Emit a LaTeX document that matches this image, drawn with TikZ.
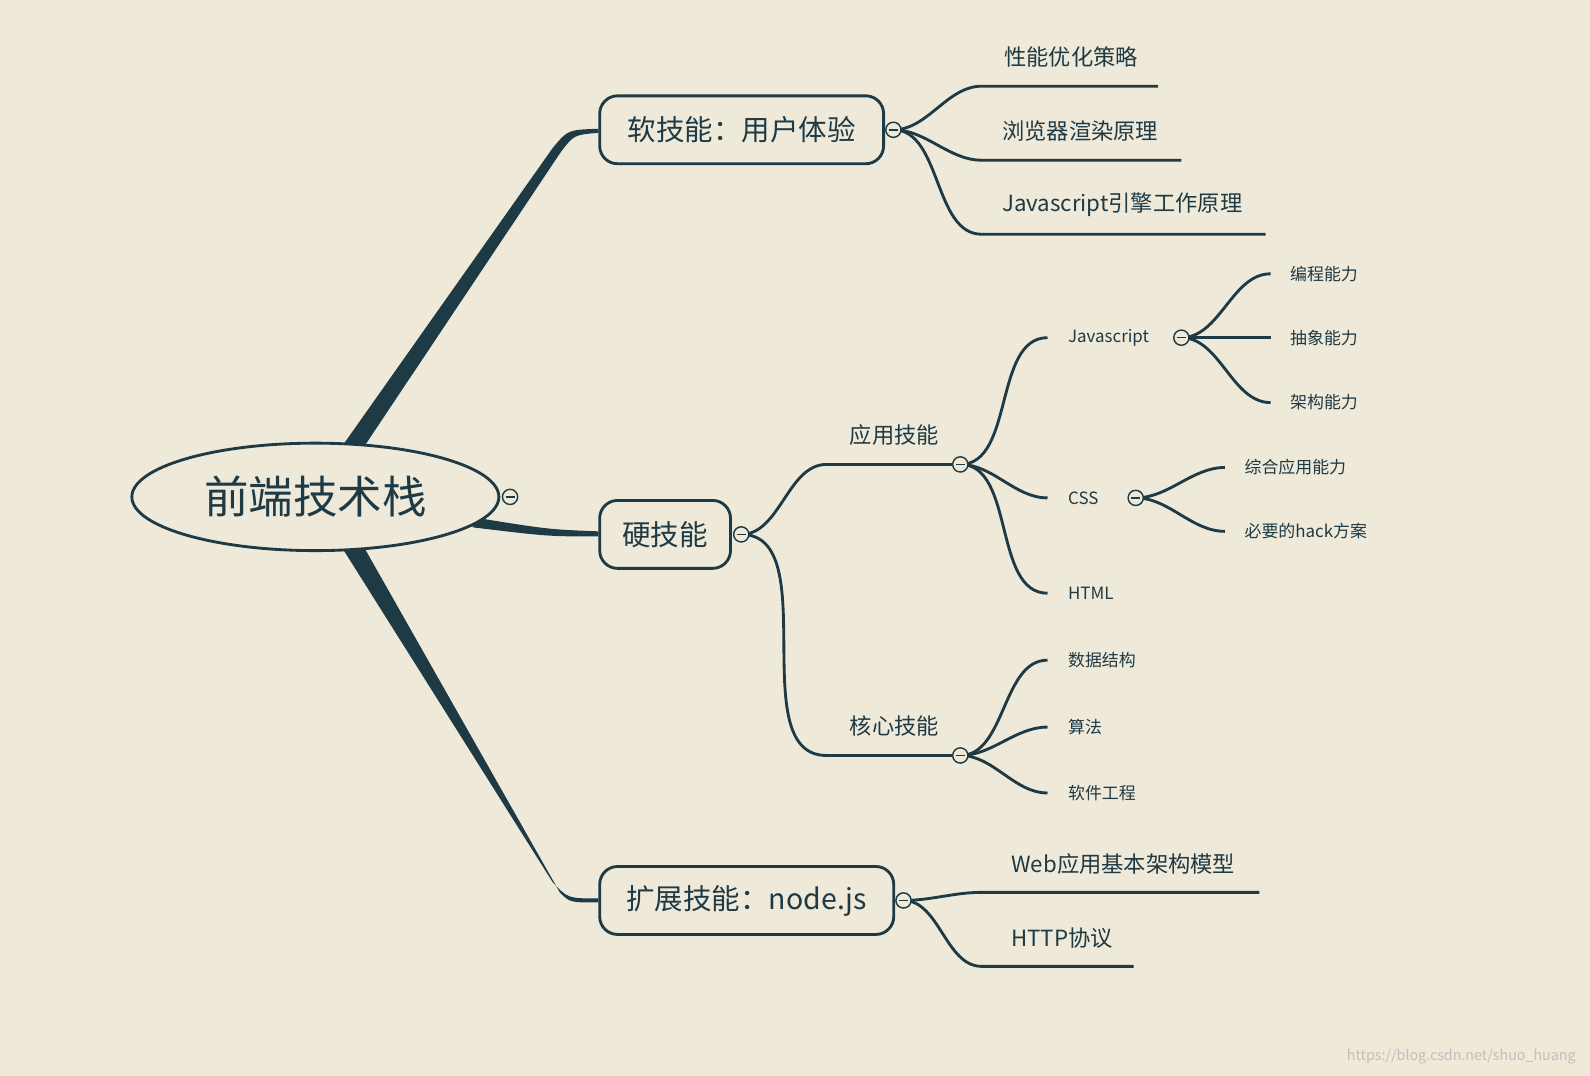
\documentclass[tikz,border=0pt]{standalone}
\usepackage{fontspec}
\setmainfont{Noto Sans CJK SC}
\usetikzlibrary{shapes.geometric}
\definecolor{bg}{HTML}{EFE9DA}
\definecolor{ink}{HTML}{1E3A44}
\begin{document}
\begin{tikzpicture}[x=0.02cm,y=-0.02cm,
  ln/.style={draw=ink,line width=1.6pt},
  br/.style={ln,out=0,in=180,looseness=0.9},
  box/.style={draw=ink,line width=1.6pt,rounded corners=10pt,minimum height=1.34cm,text=ink,font=\fontsize{16}{18}\selectfont,inner xsep=8pt},
  col/.style={circle,draw=ink,fill=bg,line width=0.8pt,minimum size=0.3cm,inner sep=0pt,
    path picture={\draw[ink,line width=0.8pt] ([xshift=-2.5pt]path picture bounding box.center)--([xshift=2.5pt]path picture bounding box.center);}},
  lf/.style={text=ink,font=\fontsize{12.5}{14}\selectfont,anchor=west,inner sep=0pt},
  sm/.style={text=ink,font=\fontsize{9.5}{11}\selectfont,anchor=west,inner sep=0pt}]
\fill[bg] (0,0) rectangle (1568,1061);
\useasboundingbox (0,0) rectangle (1568,1061);
% thick branches
\fill[ink] (336,442) -- (545,146) .. controls (560,128) .. (590,127) -- (590,131) .. controls (566,133) .. (553,150) -- (358,442) -- cycle;
\fill[ink] (466,510) .. controls (540,522) .. (590,524) -- (590,529) .. controls (540,529) .. (466,520) -- cycle;
\fill[ink] (336,538) -- (545,870) .. controls (560,886) .. (590,886) -- (590,890) .. controls (562,890) .. (552,880) -- (358,538) -- cycle;
% central
\node[ellipse,draw=ink,line width=1.6pt,fill=bg,minimum width=7.24cm,minimum height=2.12cm,text=ink,font=\fontsize{25}{28}\selectfont] (root) at (311,490) {前端技术栈};
\node[col] (c0) at (503,490) {};
% level 1
\node[box,anchor=west,minimum width=5.6cm,fill=bg] (soft) at (590,128) {软技能：用户体验};
\node[box,anchor=west,minimum width=2.58cm,fill=bg] (hard) at (590,527) {硬技能};
\node[box,anchor=west,minimum width=5.8cm,fill=bg] (ext) at (590,888) {扩展技能：node.js};
% soft leaves
\coordinate (s1) at (968,85); \coordinate (s1e) at (1142,85);
\coordinate (s2) at (968,158); \coordinate (s2e) at (1165,158);
\coordinate (s3) at (968,231); \coordinate (s3e) at (1248,231);
\node[lf] at (990,56) {性能优化策略};
\node[lf] at (988,129) {浏览器渲染原理};
\node[lf] at (988,202) {Javascript引擎工作原理};
\coordinate (sc) at (881,128);
\draw[br] (sc) to (s1) -- (s1e);
\draw[br] (sc) to (s2) -- (s2e);
\draw[br] (sc) to (s3) -- (s3e);
\node[col] at (sc) {};
% hard
\coordinate (hc) at (731,527);
\coordinate (a1) at (815,458); \coordinate (a1e) at (947,458);
\coordinate (b1) at (815,745); \coordinate (b1e) at (947,745);
\draw[br] (hc) to (a1) -- (a1e);
\draw[br] (hc) to (b1) -- (b1e);
\node[text=ink,font=\fontsize{12.5}{14}\selectfont] at (882,429) {应用技能};
\node[text=ink,font=\fontsize{12.5}{14}\selectfont] at (882,716) {核心技能};
\coordinate (js) at (1033,333); \coordinate (css) at (1033,491); \coordinate (html) at (1033,585);
\draw[br] (a1e) to (js);
\draw[br] (a1e) to (css);
\draw[br] (a1e) to (html);
\node[sm] at (1053,333) {Javascript};
\node[sm] at (1053,491) {CSS};
\node[sm] at (1053,585) {HTML};
\coordinate (jc) at (1165,333); \coordinate (cc) at (1120,491);
\foreach \y/\t in {270/编程能力,333/抽象能力,397/架构能力}{
  \draw[br] (jc) to (1253,\y);
  \node[sm] at (1272,\y) {\t};}
\foreach \y/\t in {461/综合应用能力,524/必要的hack方案}{
  \draw[br] (cc) to (1208,\y);
  \node[sm] at (1227,\y) {\t};}
\foreach \y/\t in {651/数据结构,717/算法,782/软件工程}{
  \draw[br] (b1e) to (1033,\y);
  \node[sm] at (1053,\y) {\t};}
\node[col] at (jc) {};
\node[col] at (cc) {};
\node[col] at (a1e) {};
\node[col] at (b1e) {};
\node[col] at (hc) {};
% ext
\coordinate (ec) at (891,888);
\draw[br] (ec) to (968,880) -- (1242,880);
\draw[br] (ec) to (968,953) -- (1118,953);
\node[lf] at (997,852) {Web应用基本架构模型};
\node[lf] at (997,925) {HTTP协议};
\node[col] at (ec) {};
\node[text=black!25,font=\fontsize{8}{9}\selectfont,anchor=east] at (1560,1042) {https://blog.csdn.net/shuo\_huang};
\end{tikzpicture}
\end{document}
